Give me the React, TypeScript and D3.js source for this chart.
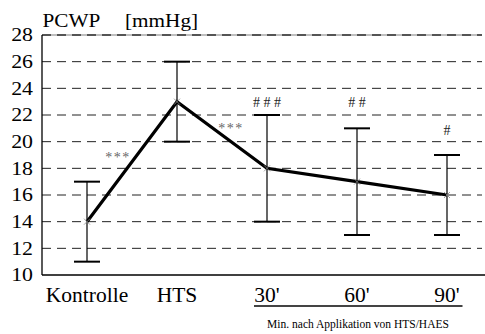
import React from "react";
import * as d3 from "d3";

const categories = ["Kontrolle", "HTS", "30'", "60'", "90'"];
const means = [14, 23, 18, 17, 16];
const upper = [17, 26, 22, 21, 19];
const lower = [11, 20, 14, 13, 13];
const yTicks = [10, 12, 14, 16, 18, 20, 22, 24, 26, 28];
const gridValues = [12, 14, 16, 18, 20, 22, 24, 26];
const hashLabels = ["", "", "# # #", "# #", "#"];
const hashValues = [0, 0, 23, 23, 20.9];
const starLabels = ["***", "***"];
const starPos = [
  { i: 0.344, v: 18.5 },
  { i: 1.6, v: 20.65 },
];

const W = 485;
const H = 334;
const left = 42;
const right = 482;
const serif = "'Liberation Serif', 'DejaVu Serif', 'Noto Serif', serif";
const ts = { fontFamily: serif };

export default function App() {
  const y = d3.scaleLinear().domain([10, 28]).range([275, 35]);
  const x = d3.scalePoint<string>().domain(categories).range([87, 447]);
  const xi = d3.scaleLinear().domain([0, categories.length - 1]).range([87, 447]);
  const line = d3
    .line<number>()
    .x((_, i) => x(categories[i]) as number)
    .y((d) => y(d));

  return (
    <svg
      width={W}
      height={H}
      style={{ position: "absolute", left: 0, top: 0, background: "#fff", fontFamily: serif }}
    >
      <rect x={0} y={0} width={W} height={H} fill="#fff" />
      {gridValues.map((v) => (
        <line
          key={v}
          x1={left}
          x2={right}
          y1={y(v)}
          y2={y(v)}
          stroke="#222"
          strokeWidth={1}
          strokeDasharray="9,6"
        />
      ))}
      <line x1={left} x2={right} y1={y(28)} y2={y(28)} stroke="#aaa" strokeWidth={1.5} />
      <line
        x1={left}
        x2={right}
        y1={y(28)}
        y2={y(28)}
        stroke="#333"
        strokeWidth={1.5}
        strokeDasharray="9,6"
      />
      <line x1={left} x2={left} y1={y(28)} y2={y(10)} stroke="#000" strokeWidth={1.3} />
      <line x1={left} x2={W} y1={y(10)} y2={y(10)} stroke="#000" strokeWidth={1.5} />
      {yTicks.map((v) => (
        <text
          key={v}
          transform={`translate(33,${y(v) + 6.3}) scale(1.18,1)`}
          textAnchor="end"
          fontSize={18.5}
          fill="#000"
          style={ts}
        >
          {v}
        </text>
      ))}
      <text transform="translate(42.5,26.7) scale(1.18,1)" fontSize={18} fill="#000" style={ts}>
        PCWP
      </text>
      <text transform="translate(125,26.7) scale(1.18,1)" fontSize={18} fill="#000" style={ts}>
        [mmHg]
      </text>
      {categories.map((c, i) => {
        const cx = x(c) as number;
        return (
          <g key={c}>
            <line x1={cx} x2={cx} y1={y(upper[i])} y2={y(lower[i])} stroke="#000" strokeWidth={1.2} />
            <line x1={cx - 13} x2={cx + 13} y1={y(upper[i])} y2={y(upper[i])} stroke="#000" strokeWidth={2} />
            <line x1={cx - 13} x2={cx + 13} y1={y(lower[i])} y2={y(lower[i])} stroke="#000" strokeWidth={2} />
          </g>
        );
      })}
      <path d={line(means) || ""} fill="none" stroke="#000" strokeWidth={3.2} strokeLinejoin="miter" />
      {categories.map((c, i) => {
        const cx = x(c) as number;
        const cy = y(means[i]);
        return (
          <path
            key={c}
            d={`M${cx - 3},${cy - 3}L${cx + 3},${cy + 3}M${cx - 3},${cy + 3}L${cx + 3},${cy - 3}`}
            stroke="#888"
            strokeWidth={0.8}
          />
        );
      })}
      {starLabels.map((s, k) => (
        <text
          key={k}
          x={xi(starPos[k].i)}
          y={y(starPos[k].v)}
          fontSize={14}
          fill="#666"
          textAnchor="middle"
          letterSpacing={1.5}
          style={ts}
        >
          {s}
        </text>
      ))}
      {hashLabels.map((s, i) =>
        s ? (
          <text
            key={i}
            x={x(categories[i]) as number}
            y={y(hashValues[i]) + 5}
            fontSize={14}
            fill="#222"
            textAnchor="middle"
            style={ts}
          >
            {s}
          </text>
        ) : null
      )}
      {categories.map((c) => (
        <text key={c} x={x(c) as number} y={301.5} fontSize={21.5} fill="#000" textAnchor="middle" style={ts}>
          {c}
        </text>
      ))}
      <line x1={254} x2={462.5} y1={306} y2={306} stroke="#444" strokeWidth={2} />
      <text x={358} y={328} fontSize={11.5} fill="#000" textAnchor="middle" style={ts}>
        Min. nach Applikation von HTS/HAES
      </text>
    </svg>
  );
}
